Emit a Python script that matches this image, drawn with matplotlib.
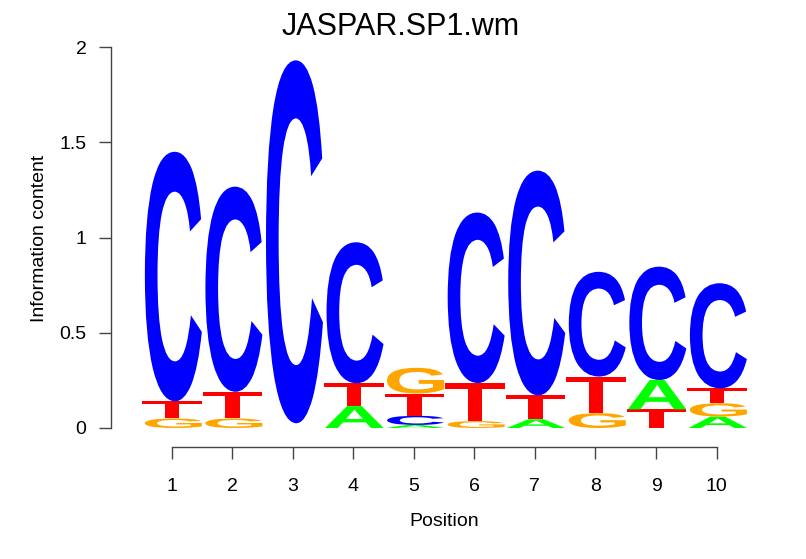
import numpy as np
import matplotlib
matplotlib.use('Agg')
import matplotlib.pyplot as plt
from matplotlib.textpath import TextPath
from matplotlib.patches import PathPatch
from matplotlib.font_manager import FontProperties
from matplotlib.transforms import Affine2D

# information content of each base at each position
positions = [1, 2, 3, 4, 5, 6, 7, 8, 9, 10]
ic_A = [0.0, 0.0, 0.0, 0.115, 0.016, 0.0, 0.046, 0.0, 0.154, 0.06]
ic_C = [1.31, 1.077, 1.905, 0.74, 0.048, 0.895, 1.18, 0.55, 0.595, 0.552]
ic_G = [0.05, 0.05, 0.013, 0.0, 0.135, 0.036, 0.0, 0.078, 0.0, 0.07]
ic_T = [0.09, 0.14, 0.012, 0.12, 0.117, 0.2, 0.125, 0.192, 0.098, 0.078]
min_h = 0.015  # letters lower than this are not drawn

farben = {'A': '#00FF00', 'C': '#0000FF', 'G': '#FFA500', 'T': '#FF0000'}
fp = FontProperties(family='Liberation Sans', weight='bold')

W, H = 806, 559
fig = plt.figure(figsize=(W / 100, H / 100), dpi=100)
x0, x1 = 111, 111 + 11 * 60.56
y0, y1 = 428, 47
ax = fig.add_axes([x0 / W, 1 - y0 / H, (x1 - x0) / W, (y0 - y1) / H])
ax.set_xlim(0, 11)
ax.set_ylim(0, 2)


def buchstabe(ax, ch, xc, yb, h):
    # glyph stretched to fill the box [xc-0.5, xc+0.5] x [yb, yb+h]
    tp = TextPath((0, 0), ch, size=1, prop=fp)
    v = tp.vertices
    xmin, ymin = v.min(axis=0)
    xmax, ymax = v.max(axis=0)
    tr = Affine2D().translate(-xmin, -ymin).scale(1.0 / (xmax - xmin), h / (ymax - ymin)).translate(xc - 0.5, yb)
    ax.add_patch(PathPatch(tr.transform_path(tp), facecolor=farben[ch], edgecolor='none', lw=0))


for i, p in enumerate(positions):
    werte = [('A', ic_A[i]), ('C', ic_C[i]), ('G', ic_G[i]), ('T', ic_T[i])]
    werte.sort(key=lambda t: t[1])
    unten = 0.0
    for ch, h in werte:
        if h >= min_h:
            buchstabe(ax, ch, p, unten, h)
        unten += h

for s in ['top', 'right']:
    ax.spines[s].set_visible(False)
ax.spines['left'].set_bounds(0, 2)
ax.spines['bottom'].set_bounds(1, 10)
ax.spines['bottom'].set_position(('outward', 19 * 0.72))
for s in ['left', 'bottom']:
    ax.spines[s].set_color('#444444')
    ax.spines[s].set_linewidth(1)

ax.set_xticks(positions)
ax.set_xticklabels([str(p) for p in positions])
ax.set_yticks([0, 0.5, 1, 1.5, 2])
ax.set_yticklabels(['0', '0.5', '1', '1.5', '2'])
ax.tick_params(axis='both', direction='out', length=12 * 0.72, width=1, color='#444444',
               labelsize=14, pad=9)
ax.tick_params(axis='x', pad=14)
for lab in ax.get_xticklabels() + ax.get_yticklabels():
    lab.set_fontfamily('Liberation Sans')

fig.text(401 / W, 1 - 27 / H, 'JASPAR.SP1.wm', ha='center', va='center', fontsize=22, family='Liberation Sans')
fig.text(444 / W, 1 - 521 / H, 'Position', ha='center', va='center', fontsize=14, family='Liberation Sans')
fig.text(40 / W, 1 - 238 / H, 'Information content', ha='center', va='center', rotation=90,
         fontsize=14, family='Liberation Sans')

plt.savefig('out.png', dpi=100)
